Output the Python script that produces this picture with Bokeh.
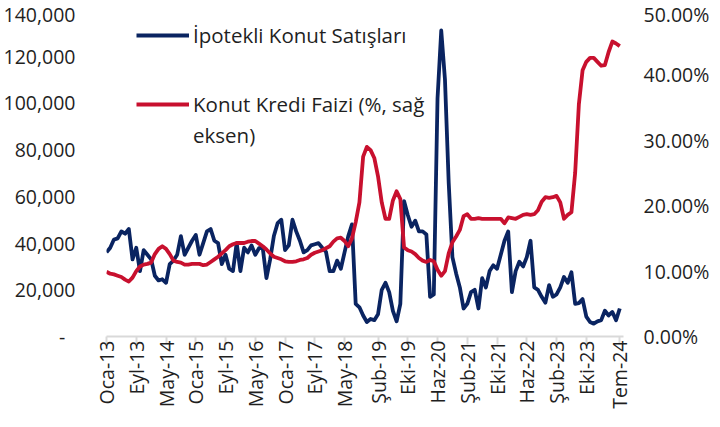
import math
from bokeh.plotting import figure
from bokeh.models import (Range1d, LinearAxis, FixedTicker, NumeralTickFormatter,
                          PrintfTickFormatter, Legend, LegendItem)
from bokeh.embed import file_html
from bokeh.resources import INLINE

# ---------------- data ----------------
start_year = 2013
tick_labels = ["Oca-13", "Eyl-13", "May-14", "Oca-15", "Eyl-15", "May-16", "Oca-17",
               "Eyl-17", "May-18", "Şub-19", "Eki-19", "Haz-20", "Şub-21", "Eki-21",
               "Haz-22", "Şub-23", "Eki-23", "Tem-24"]
tr_months = ["Oca", "Şub", "Mar", "Nis", "May", "Haz", "Tem", "Ağu", "Eyl", "Eki", "Kas", "Ara"]

# İpotekli konut satışları (adet), monthly Jan-2013 .. Jul-2024
sales = [
    36000, 38000, 41500, 42000, 45000, 44000, 46000, 33000, 38000, 28000, 37000, 35000,
    33000, 26000, 24000, 24500, 23000, 31000, 32500, 35000, 43000, 35000, 38000, 41000,
    43500, 35000, 40000, 45000, 46000, 41000, 40000, 31000, 35000, 29000, 28000, 40000,
    28000, 38000, 36000, 39000, 35000, 37800, 38000, 25000, 33000, 43000, 48500, 50000,
    37000, 39000, 50000, 45000, 41000, 36000, 37000, 39000, 39500, 40000, 38000, 36300,
    28000, 28000, 32500, 29000, 36000, 43000, 48000, 14000, 12500, 9000, 6200, 7500,
    7000, 9500, 20000, 23000, 19000, 11000, 6500, 14000, 58000, 52000, 47000, 49600,
    45000, 45000, 43700, 17000, 18000, 102000, 131000, 110000, 66000, 34000, 27000, 21000,
    12000, 14000, 19000, 20000, 12000, 25000, 21000, 28000, 30500, 29000, 35000, 41000,
    45000, 19000, 28000, 32000, 30000, 34000, 41000, 21000, 20000, 17000, 14500, 22000,
    17000, 18000, 21000, 25500, 23000, 27500, 14000, 14300, 16000, 8500, 6200, 5500,
    6500, 7000, 11000, 9000, 10500, 7000, 12000,
]

# Konut kredi faizi (%), monthly Jan-2013 .. Jul-2024
rate = [
    9.9, 9.6, 9.5, 9.3, 9.1, 8.7, 8.4, 9.0, 10.0, 10.7, 11.0, 11.1,
    11.3, 12.6, 13.4, 13.8, 13.4, 12.6, 11.6, 11.4, 11.3, 11.0, 11.0, 11.1,
    11.1, 11.1, 10.9, 11.0, 11.4, 11.8, 12.2, 12.7, 13.2, 13.8, 14.1, 14.3,
    14.3, 14.3, 14.5, 14.6, 14.6, 14.2, 13.8, 13.3, 12.7, 12.2, 12.0, 11.8,
    11.5, 11.4, 11.4, 11.5, 11.7, 11.8, 12.0, 12.5, 12.8, 13.0, 13.2, 13.5,
    13.8, 14.5, 15.0, 15.1, 14.6, 13.8, 15.0, 17.5, 20.5, 27.5, 29.0, 28.5,
    27.3, 24.5, 20.5, 18.0, 18.0, 20.8, 22.2, 21.0, 13.6, 13.2, 13.0, 12.6,
    12.0, 11.6, 11.4, 11.7, 11.5, 10.2, 9.3, 10.0, 12.7, 14.4, 15.3, 16.3,
    18.4, 18.7, 18.0, 18.0, 18.1, 18.0, 18.0, 18.0, 18.0, 18.0, 18.0, 17.3,
    18.2, 18.1, 18.0, 18.3, 18.6, 18.7, 18.6, 18.7, 19.3, 20.6, 21.3, 21.2,
    21.3, 21.5, 20.5, 18.0, 18.6, 19.0, 25.0, 35.5, 40.7, 42.0, 42.6, 42.6,
    42.0, 41.4, 41.5, 43.5, 45.1, 44.8, 44.4,
]

left_ticks = [0, 20000, 40000, 60000, 80000, 100000, 120000, 140000]
right_ticks = [0, 10, 20, 30, 40, 50]
name_sales = "İpotekli Konut Satışları"
name_rate_1 = "Konut Kredi Faizi (%, sağ"
name_rate_2 = "eksen)"

# month index of each observation and of each tick label
months = list(range(len(sales)))
def label_to_index(lbl):
    m, y = lbl.split("-")
    return (2000 + int(y) - start_year) * 12 + tr_months.index(m)
tick_pos = [label_to_index(t) for t in tick_labels]

# ---------------- style ----------------
BLUE = "#0A2461"
RED = "#C8102E"
TXT = "#1F1F1F"
FONT = "Open Sans"
FS = "19.5px"
LFS = "20.5px"

p = figure(width=712, height=411, output_backend="svg", toolbar_location=None,
           x_range=Range1d(0, len(sales)), y_range=Range1d(0, 140000),
           min_border_left=99, min_border_top=9, min_border_right=0, min_border_bottom=0)
p.extra_y_ranges = {"pct": Range1d(0, 50)}
p.outline_line_color = None
p.xgrid.grid_line_color = None
p.ygrid.grid_line_color = None
p.background_fill_color = "white"
p.border_fill_color = "white"

r_sales = p.line(months, sales, line_color=BLUE, line_width=3.8, line_join="round")
r_rate = p.line(months, rate, line_color=RED, line_width=3.8, line_join="round",
                y_range_name="pct")
r_blank = p.line([], [], line_alpha=0)

# x axis
xa = p.xaxis[0]
xa.ticker = FixedTicker(ticks=tick_pos)
xa.major_label_overrides = {pos: lbl for pos, lbl in zip(tick_pos, tick_labels)}
xa.major_label_orientation = math.pi / 2
xa.axis_line_color = "#D9D9D9"
xa.axis_line_width = 2
xa.major_tick_line_color = "#D9D9D9"
xa.major_tick_line_width = 2
xa.major_tick_out = 8
xa.major_tick_in = 0
xa.minor_tick_line_color = None
xa.minor_tick_out = 0
xa.major_label_standoff = -4
xa.major_label_text_font = FONT
xa.major_label_text_font_size = FS
xa.major_label_text_color = TXT

# left axis
ya = p.yaxis[0]
ya.ticker = FixedTicker(ticks=left_ticks)
ya.formatter = NumeralTickFormatter(format="0,0")
ya.major_label_overrides = {0: "-\u00a0\u00a0"}
ya.axis_line_color = None
ya.major_tick_line_color = None
ya.minor_tick_line_color = None
ya.major_tick_out = 0
ya.major_tick_in = 0
ya.minor_tick_out = 0
ya.major_label_standoff = 31
ya.major_label_text_font = FONT
ya.major_label_text_font_size = FS
ya.major_label_text_color = TXT

# right axis
ra = LinearAxis(y_range_name="pct", ticker=FixedTicker(ticks=right_ticks),
                formatter=PrintfTickFormatter(format="%.2f%%"))
ra.axis_line_color = None
ra.major_tick_line_color = None
ra.minor_tick_line_color = None
ra.major_tick_out = 0
ra.major_tick_in = 0
ra.minor_tick_out = 0
ra.major_label_standoff = 20
ra.major_label_text_font = FONT
ra.major_label_text_font_size = FS
ra.major_label_text_color = TXT
p.add_layout(ra, "right")

def make_legend(items, loc, spacing=0):
    lg = Legend(items=items, location=loc, orientation="vertical",
                glyph_width=53, glyph_height=20, label_standoff=4,
                padding=0, margin=0, spacing=spacing,
                border_line_color=None, background_fill_alpha=0,
                label_text_font=FONT, label_text_font_size=LFS,
                label_text_color=TXT)
    return lg

leg_a = make_legend([LegendItem(label=name_sales, renderers=[r_sales])], (30, 287))
leg_b = make_legend([LegendItem(label=name_rate_1, renderers=[r_rate]),
                     LegendItem(label=name_rate_2, renderers=[r_blank])], (30, 187), spacing=3)
p.add_layout(leg_a)
p.add_layout(leg_b)

open("out.html", "w").write(file_html(p, INLINE))
